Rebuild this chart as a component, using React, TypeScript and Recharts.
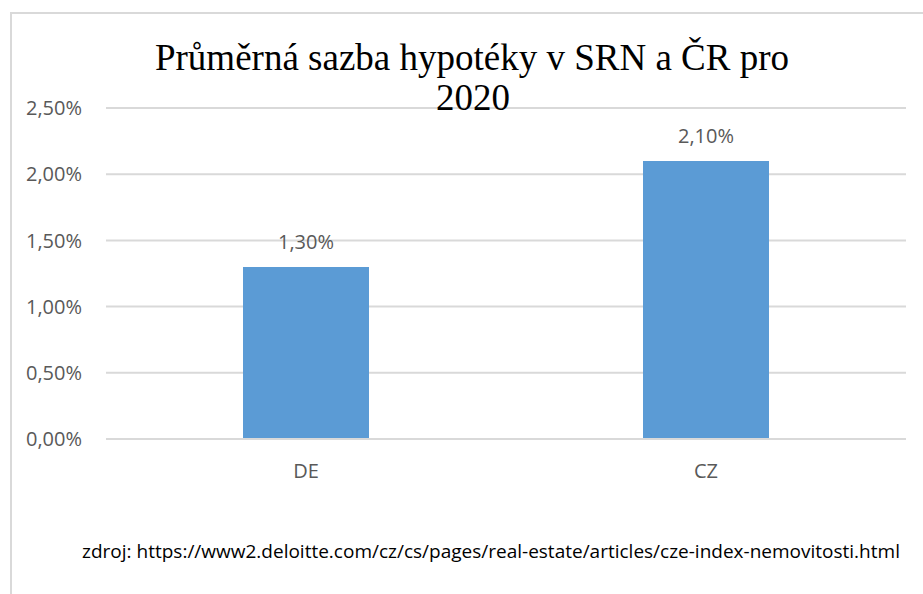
import React from "react";
import { BarChart, Bar, XAxis, YAxis, CartesianGrid, LabelList, Customized } from "recharts";

const categories = ["DE", "CZ"];
const rates = [1.3, 2.1];
const yTicks = [0, 0.5, 1, 1.5, 2, 2.5];
const titleLines = ["Průměrná sazba hypotéky v SRN a ČR pro", "2020"];
const sourceText = "zdroj: https://www2.deloitte.com/cz/cs/pages/real-estate/articles/cze-index-nemovitosti.html";

const data = categories.map((c, i) => ({ name: c, value: rates[i] }));

const fmt = (v: number) => v.toFixed(2).replace(".", ",") + "%";

const SANS = "'Open Sans', sans-serif";

const Overlay = () => (
  <g>
    <text x={472} y={70} textAnchor="middle" fontFamily="'Liberation Serif', serif" fontSize={37} fill="#000">
      {titleLines[0]}
    </text>
    <text x={473} y={110} textAnchor="middle" fontFamily="'Liberation Serif', serif" fontSize={37} fill="#000">
      {titleLines[1]}
    </text>
    <text x={491} y={558} textAnchor="middle" fontFamily={SANS} fontSize={19} fill="#000">
      {sourceText}
    </text>
  </g>
);

export default function App() {
  return (
    <div style={{ position: "absolute", left: 0, top: 0, width: 923, height: 594, background: "#fff" }}>
      <div
        style={{
          position: "absolute",
          left: 10,
          top: 12,
          right: -2,
          bottom: -2,
          borderLeft: "2px solid #d9d9d9",
          borderTop: "2px solid #d9d9d9",
        }}
      />
      <div style={{ position: "absolute", left: 0, top: 0 }}>
        <BarChart width={923} height={594} data={data} margin={{ top: 108, right: 17, bottom: 125, left: 0 }}>
          <CartesianGrid vertical={false} stroke="#d9d9d9" strokeWidth={2} />
          <XAxis
            dataKey="name"
            axisLine={{ stroke: "#d9d9d9", strokeWidth: 2 }}
            tickLine={false}
            tickSize={0}
            tickMargin={25}
            height={30}
            tick={{ fill: "#595959", fontSize: 20, fontFamily: SANS }}
          />
          <YAxis
            domain={[0, 2.5]}
            ticks={yTicks}
            width={106}
            axisLine={false}
            tickLine={false}
            tickSize={0}
            tickMargin={24}
            tickFormatter={fmt}
            tick={{ fill: "#595959", fontSize: 20, fontFamily: SANS }}
          />
          <Bar dataKey="value" fill="#5b9bd5" barSize={126} isAnimationActive={false}>
            <LabelList
              dataKey="value"
              position="top"
              offset={18}
              formatter={(v: any) => fmt(Number(v))}
              style={{ fill: "#595959", fontSize: 20, fontFamily: SANS }}
            />
          </Bar>
          <Customized component={Overlay} />
        </BarChart>
      </div>
    </div>
  );
}
